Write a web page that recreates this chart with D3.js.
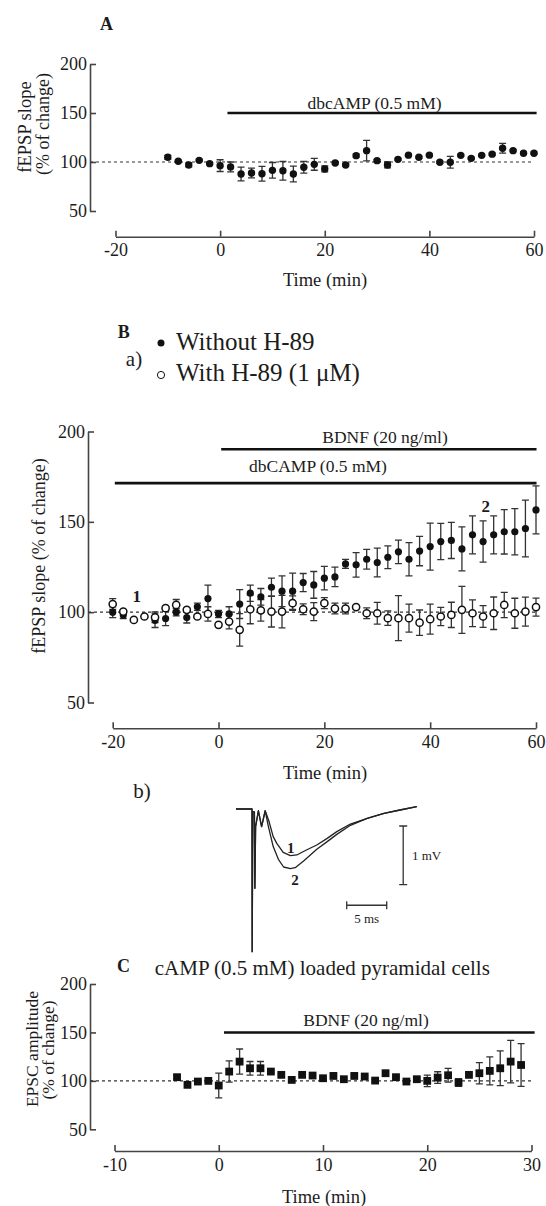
<!DOCTYPE html>
<html><head><meta charset="utf-8">
<script src="https://cdn.jsdelivr.net/npm/d3@7"></script>
<style>
body{margin:0;background:#fff;}
svg{display:block;font-family:"Liberation Serif","Times New Roman",serif;}
</style></head><body>
<svg id="fig" width="546" height="1206"></svg>
<script>
// ---------- Panel A data ----------
const timeA = [-10,-8,-6,-4,-2,0,2,4,6,8,10,12,14,16,18,20,22,24,26,28,30,32,34,36,38,40,42,44,46,48,50,52,54,56,58,60];
const slopeA = [104.8,100.7,97,101.7,98.3,96.3,95,87.8,88.8,88,91.5,91,87.8,94.6,97.6,92.9,99,97,106.5,111.6,101.4,97,102.7,107,104.8,107,99.7,99.7,106.8,103.7,106.8,108,114,111.6,109,109];
const semA = [2,1,2,1,1,6,5,7,5,7.5,8,9.5,8,6,6,3,1,1,1.5,10.5,1,3,1,1,1,1,1,6,1,1,1,1,5,1,1,1];

// ---------- Panel B data ----------
const timeB = [-20,-18,-16,-14,-12,-10,-8,-6,-4,-2,0,2,4,6,8,10,12,14,16,18,20,22,24,26,28,30,32,34,36,38,40,42,44,46,48,50,52,54,56,58,60];
const withoutH89 = [100,98.5,null,null,95.5,96.5,100,97,103,107.5,99,99,104.5,110.5,108.5,113.8,111.6,111.6,116.4,115.1,118.8,119.5,126.7,126.2,129.3,127.5,130.4,133.4,129.3,133.8,136.3,139.1,139.7,135,142.8,139.1,142.8,144.5,144.5,146.3,156.6];
const withoutH89Sem = [3,2,0,0,4,4,2,3,2,7.5,2,4,8,4.5,4.6,5,8.5,10,5,7.4,6.5,5.4,2.5,6.8,5.5,8,6.3,6.5,9.2,8.1,13,10,10,12.2,10.5,11.4,10.5,12.3,12.8,15.7,13.3];
const withH89 = [104.5,100.3,95.7,97.6,97.2,102.2,104,101.3,97.6,99,93,94.8,90.2,101.6,101,100.3,100.3,105,101.6,100.3,105,102,102,102.8,99.4,99.4,96.7,96.7,96.7,94.2,96.1,97.6,98.5,101.3,99.4,97.6,99.4,104,99.4,100.3,102.8];
const withH89Sem = [3,1,0,1,3,1,3,1,1,4,1,4,9,8,6,8.5,9,4,3,5,3,3,3,1,3,6,4,12.5,7.8,7,8.3,5,7,13,7.4,6,9,7,8.3,8,5];

// ---------- Panel B(b) traces (ms, mV) ----------
const traceTime1 = [-2,0,0.02,0.1,0.3,0.36,0.45,0.8,1.2,1.65,2.1,2.65,3.1,3.9,4.8,5.6,6.8,8.1,9.4,10.6,12.3,14.4,16.5,18.5,20.6];
const traceV1    = [0,0,-2.43,-0.05,-0.05,-1.35,-0.3,-0.03,-0.3,-0.03,-0.2,-0.47,-0.585,-0.74,-0.795,-0.783,-0.698,-0.613,-0.5,-0.386,-0.256,-0.159,-0.074,-0.017,0.04];
const traceTime2 = [-2,0,0.02,0.1,0.3,0.36,0.45,0.8,1.2,1.65,2.05,2.65,3.3,3.95,4.8,5.4,6.45,8.1,9.4,10.6,12.3,14.4,16.5,18.5,20.6];
const traceV2    = [0,0,-2.43,-0.05,-0.05,-1.35,-0.3,-0.03,-0.3,-0.03,-0.3,-0.64,-0.857,-0.988,-1.016,-0.999,-0.886,-0.686,-0.556,-0.432,-0.278,-0.159,-0.074,-0.017,0.04];

// ---------- Panel C data ----------
const timeC = [-4,-3,-2,-1,0,1,2,3,4,5,6,7,8,9,10,11,12,13,14,15,16,17,18,19,20,21,22,23,24,25,26,27,28,29];
const epscC = [103.8,95.9,99.3,100,95.2,109.6,119.9,113,113,109.6,106.2,101,106.2,105.5,102.7,105.1,101.7,105.1,104.5,100.3,107.9,103.8,99.3,101.7,100,103.4,105.8,98.3,106.2,107.9,110.3,113,119.9,116.4];
const epscSem = [2,1,1,1,12.8,11,13,7,7,1,1,1,1,1,1,1,1,1,1,1,1,1,1,1,6,6,7,4,1,11,14.5,18,22,22];

// ---------- ticks ----------
const yTicks = [50,100,150,200];
const xTicksAB = [-20,0,20,40,60];
const xTicksC = [-10,0,10,20,30];

const svg = d3.select("#fig");
const ink = "#1c1c1c", axisInk = "#444";
const FONT = '"Liberation Serif","Times New Roman",serif';

function txt(x, y, s, size, opts = {}) {
  const t = svg.append("text").attr("x", x).attr("y", y).text(s)
    .attr("font-size", size).attr("fill", ink).attr("font-family", FONT)
    .attr("dominant-baseline", "central")
    .attr("text-anchor", opts.anchor || "middle");
  if (opts.bold) t.attr("font-weight", "bold");
  if (opts.rotate) t.attr("transform", `rotate(-90,${x},${y})`);
  return t;
}

function axes(x, y, xAxisY, yAxisX, xTicks) {
  const gy = svg.append("g").attr("transform", `translate(${yAxisX},0)`)
    .call(d3.axisLeft(y).tickValues(yTicks).tickSizeInner(-6).tickSizeOuter(0).tickPadding(3));
  const gx = svg.append("g").attr("transform", `translate(0,${xAxisY})`)
    .call(d3.axisBottom(x).tickValues(xTicks).tickFormat(d => String(d)).tickSizeInner(-6).tickSizeOuter(0).tickPadding(7));
  [gx, gy].forEach(g => {
    g.attr("font-family", FONT).attr("font-size", 18);
    g.select(".domain").attr("stroke", axisInk).attr("stroke-width", 1.6);
    g.selectAll(".tick line").attr("stroke", axisInk).attr("stroke-width", 1.6);
    g.selectAll(".tick text").attr("fill", ink);
  });
}

function dashed(x, y, x0, x1) {
  svg.append("line").attr("x1", x0).attr("x2", x(x1)).attr("y1", y(100)).attr("y2", y(100))
    .attr("stroke", "#333").attr("stroke-width", 1.2).attr("stroke-dasharray", "3,3");
}

function bar(x, y, t0, t1, level) {
  svg.append("line").attr("x1", x(t0)).attr("x2", x(t1)).attr("y1", y(level)).attr("y2", y(level))
    .attr("stroke", "#111").attr("stroke-width", 2.6);
}

function errorBars(xs, ys, es, x, y, cap) {
  const data = xs.map((t, i) => ({ t, v: ys[i], e: es[i] })).filter(d => d.v != null && d.e > 0);
  svg.append("g").selectAll("path").data(data).join("path")
    .attr("d", d => {
      const cx = x(d.t), y0 = y(d.v - d.e), y1 = y(d.v + d.e);
      return `M${cx},${y0}V${y1}M${cx - cap},${y0}H${cx + cap}M${cx - cap},${y1}H${cx + cap}`;
    })
    .attr("stroke", "#333").attr("stroke-width", 1.3).attr("fill", "none");
}

function points(xs, ys, x, y, shape, r) {
  const data = xs.map((t, i) => ({ t, v: ys[i] })).filter(d => d.v != null);
  const g = svg.append("g");
  if (shape === "square") {
    g.selectAll("rect").data(data).join("rect")
      .attr("x", d => x(d.t) - r).attr("y", d => y(d.v) - r).attr("width", 2 * r).attr("height", 2 * r)
      .attr("fill", "#111");
  } else {
    g.selectAll("circle").data(data).join("circle")
      .attr("cx", d => x(d.t)).attr("cy", d => y(d.v)).attr("r", r)
      .attr("fill", shape === "open" ? "#fff" : "#111")
      .attr("stroke", "#111").attr("stroke-width", shape === "open" ? 1.5 : 0);
  }
}

// ================= Panel A =================
const xA = d3.scaleLinear().domain([-20, 60]).range([115.5, 534]);
const yA = d3.scaleLinear().domain([50, 200]).range([211, 64]);
txt(100, 24, "A", 18, { bold: true, anchor: "start" });
axes(xA, yA, 236.7, 90, xTicksAB);
dashed(xA, yA, 90, 60);
bar(xA, yA, 1.4, 60.5, 150);
txt(374.6, 103, "dbcAMP (0.5 mM)", 17.5);
errorBars(timeA, slopeA, semA, xA, yA, 3.5);
points(timeA, slopeA, xA, yA, "filled", 3.7);
txt(25, 127, "fEPSP slope", 18.5, { rotate: true });
txt(43, 124, "(% of change)", 18, { rotate: true });
txt(325, 280, "Time (min)", 18.5);

// ================= Panel B (a) =================
const xB = d3.scaleLinear().domain([-20, 60]).range([112.7, 536]);
const yB = d3.scaleLinear().domain([50, 200]).range([702.5, 431.5]);
txt(123.7, 331.5, "B", 18, { bold: true });
txt(134, 359, "a)", 21);
svg.append("circle").attr("cx", 161).attr("cy", 343).attr("r", 3.5).attr("fill", "#111");
svg.append("circle").attr("cx", 161).attr("cy", 375).attr("r", 3.6).attr("fill", "#fff").attr("stroke", "#111").attr("stroke-width", 1);
txt(176, 341.5, "Without H-89", 25, { anchor: "start" });
txt(176, 372.5, "With H-89 (1 \u03BCM)", 25, { anchor: "start" });

axes(xB, yB, 728.3, 88, xTicksAB);
dashed(xB, yB, 88, 60);
bar(xB, yB, 0.5, 60.1, 190.2);
bar(xB, yB, -19.6, 60.1, 171.4);
txt(385, 436.5, "BDNF (20 ng/ml)", 17.5);
txt(318, 466, "dbCAMP (0.5 mM)", 17.5);
errorBars(timeB, withoutH89, withoutH89Sem, xB, yB, 3.5);
errorBars(timeB, withH89, withH89Sem, xB, yB, 3.5);
points(timeB, withoutH89, xB, yB, "filled", 3.6);
points(timeB, withH89, xB, yB, "open", 3.6);
txt(136.7, 596.5, "1", 17, { bold: true });
txt(485.7, 506.5, "2", 17, { bold: true });
txt(39, 556, "fEPSP slope (% of change)", 18, { rotate: true });
txt(325, 773, "Time (min)", 18.5);

// ================= Panel B (b) traces =================
txt(142, 791, "b)", 21);
const xT = d3.scaleLinear().domain([0, 20]).range([252, 412]);
const yT = d3.scaleLinear().domain([0, -1]).range([809, 867.7]);
const traceLine = d3.line().x(d => xT(d[0])).y(d => yT(d[1]));
[[traceTime1, traceV1], [traceTime2, traceV2]].forEach(([ts, vs]) => {
  svg.append("path").attr("d", traceLine(ts.map((t, i) => [t, vs[i]])))
    .attr("fill", "none").attr("stroke", "#222").attr("stroke-width", 1.3).attr("stroke-linejoin", "round");
});
txt(290.7, 848, "1", 15, { bold: true });
txt(295, 880, "2", 15, { bold: true });
// scale bars: 1 mV and 5 ms
const vBarT = 18.9, vBarTop = -0.29;
svg.append("path").attr("d",
  `M${xT(vBarT)},${yT(vBarTop)}V${yT(vBarTop - 1)}M${xT(vBarT) - 4},${yT(vBarTop)}H${xT(vBarT) + 4}M${xT(vBarT) - 4},${yT(vBarTop - 1)}H${xT(vBarT) + 4}`)
  .attr("stroke", "#333").attr("stroke-width", 1.3).attr("fill", "none");
txt(412, 855, "1 mV", 13, { anchor: "start" });
const hBarT = 11.84, hBarV = -1.64;
svg.append("path").attr("d",
  `M${xT(hBarT)},${yT(hBarV)}H${xT(hBarT + 5)}M${xT(hBarT)},${yT(hBarV) - 4}V${yT(hBarV) + 4}M${xT(hBarT + 5)},${yT(hBarV) - 4}V${yT(hBarV) + 4}`)
  .attr("stroke", "#333").attr("stroke-width", 1.3).attr("fill", "none");
txt(xT(hBarT + 2.5), 918.5, "5 ms", 13);

// ================= Panel C =================
const xC = d3.scaleLinear().domain([-10, 30]).range([114.5, 531.5]);
const yC = d3.scaleLinear().domain([50, 200]).range([1129.3, 984]);
txt(123.5, 966, "C", 18, { bold: true });
txt(322.3, 968, "cAMP (0.5 mM) loaded pyramidal cells", 21);
axes(xC, yC, 1151, 90, xTicksC);
dashed(xC, yC, 90, 30.2);
bar(xC, yC, 0.5, 30.3, 150);
txt(366, 1020, "BDNF (20 ng/ml)", 17.5);
errorBars(timeC, epscC, epscSem, xC, yC, 3.5);
points(timeC, epscC, xC, yC, "square", 3.9);
txt(32, 1049, "EPSC amplitude", 17.5, { rotate: true });
txt(48, 1050, "(% of change)", 17.5, { rotate: true });
txt(324, 1196.5, "Time (min)", 18.5);
</script>
</body></html>
